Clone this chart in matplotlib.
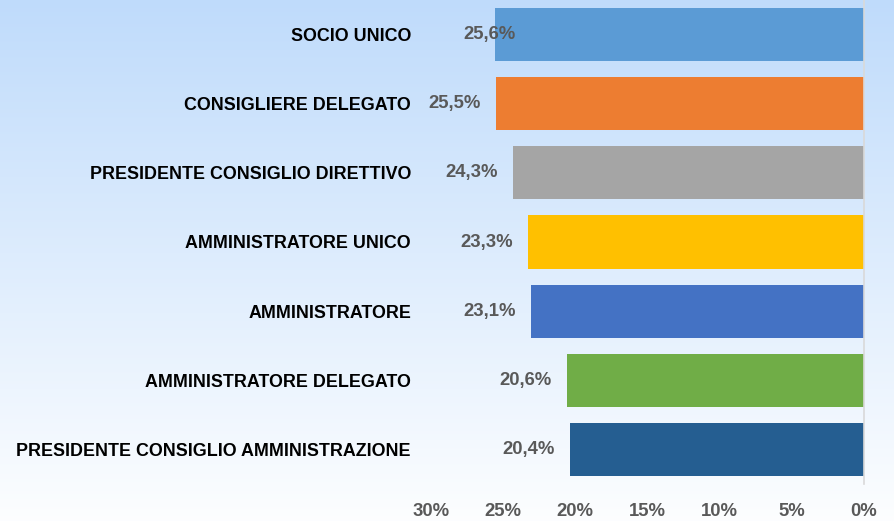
import numpy as np
import matplotlib
matplotlib.use("Agg")
import matplotlib.pyplot as plt

# dati
categorie = ["SOCIO UNICO", "CONSIGLIERE DELEGATO", "PRESIDENTE CONSIGLIO DIRETTIVO",
             "AMMINISTRATORE UNICO", "AMMINISTRATORE", "AMMINISTRATORE DELEGATO",
             "PRESIDENTE CONSIGLIO AMMINISTRAZIONE"]
valori = [25.6, 25.5, 24.3, 23.3, 23.1, 20.6, 20.4]
colori = ["#5B9BD5", "#ED7D31", "#A5A5A5", "#FFC000", "#4472C4", "#70AD47", "#255E91"]
tick_vals = [30, 25, 20, 15, 10, 5, 0]

plt.rcParams['font.family'] = ['Liberation Sans', 'DejaVu Sans']
fs = 13.3

fig = plt.figure(figsize=(8.94, 5.21), dpi=100)

# sfondo sfumato
bg = fig.add_axes([0, 0, 1, 1], zorder=-10)
grad = np.linspace(0, 1, 256).reshape(-1, 1)
top = np.array([0.75, 0.86, 0.985])
bot = np.array([0.99, 0.995, 1.0])
img = top + (bot - top) * grad[:, :, None]
bg.imshow(img, aspect='auto', extent=[0, 1, 0, 1])
bg.axis('off')

ax = fig.add_axes([431/894, 1 - 484/521, (864-431)/894, 484/521])
ax.patch.set_alpha(0)
y = np.arange(len(categorie))
ax.barh(y, valori, height=0.77, color=colori, zorder=2)
ax.set_xlim(30, 0)
ax.set_ylim(len(categorie) - 0.5, -0.5)
ax.set_xticks(tick_vals)
ax.set_xticklabels([f"{v}%" for v in tick_vals], fontsize=fs, fontweight='bold', color='#595959')
ax.set_yticks(y)
ax.set_yticklabels(categorie, fontsize=12.9, fontweight='bold', color='black')
ax.tick_params(axis='y', length=0, pad=14.4)
ax.tick_params(axis='x', length=0, pad=14)
for s in ['top', 'left', 'bottom']:
    ax.spines[s].set_visible(False)
ax.spines['right'].set_color('#D9D9D9')
ax.spines['right'].set_linewidth(1.2)

for i, v in enumerate(valori):
    off = 21 if i == 0 else -15
    ax.annotate(f"{v:.1f}%".replace(".", ","), (v, i), xytext=(off * 0.72, 0),
                textcoords='offset points', ha='right', va='center',
                fontsize=fs, fontweight='bold', color='#595959', zorder=3)

fig.savefig("out.png", dpi=100)
